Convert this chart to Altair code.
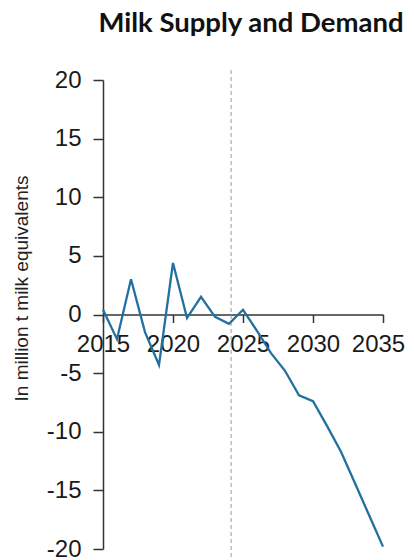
import altair as alt
import pandas as pd

years = list(range(2015, 2036))
values = [0.4, -2.1, 3.0, -1.5, -4.3, 4.4, -0.3, 1.5, -0.2, -0.8, 0.4,
          -1.4, -3.3, -4.8, -6.9, -7.4, -9.5, -11.7, -14.4, -17.1, -19.8]
divider_year = [2024.15]
x_ticks = [2015, 2020, 2025, 2030, 2035]
y_ticks = [-20, -15, -10, -5, 0, 5, 10, 15, 20]

df = pd.DataFrame({"year": years, "value": values})
rule_df = pd.DataFrame({"year": divider_year})

W, H = 280, 469
LABEL_FONT = "Liberation Sans"

x_scale = alt.Scale(domain=[2015, 2035], nice=False, zero=False)
y_scale = alt.Scale(domain=[-20, 20], nice=False)

line = alt.Chart(df).mark_line(color="#22709f", strokeWidth=2.3).encode(
    x=alt.X("year:Q", scale=x_scale,
            axis=alt.Axis(values=x_ticks, format="d", title=None, grid=False,
                          offset=-H / 2, tickSize=8, labelPadding=10,
                          labelOffset={"condition": {"test": "datum.value == 2035", "value": -5},
                                       "value": 0},
                          labelFont=LABEL_FONT, labelFontSize=24, labelColor="#1a1a1a",
                          domainColor="#333333", tickColor="#333333",
                          domainWidth=1.5, tickWidth=1.5, labelOverlap=False,
                          labelFlush=False)),
    y=alt.Y("value:Q", scale=y_scale,
            axis=alt.Axis(values=y_ticks, title="In million t milk equivalents",
                          grid=False, tickSize=10, labelPadding=12,
                          labelExpr="'' + datum.value",
                          labelFont=LABEL_FONT, labelFontSize=24, labelColor="#1a1a1a",
                          domainColor="#333333", tickColor="#333333",
                          domainWidth=1.5, tickWidth=1.5,
                          titleFont=LABEL_FONT, titleFontSize=19, titleFontWeight="normal",
                          titleColor="#222222", titleX=-82, titleY=208,
                          titleAngle=270, titleBaseline="middle", titleAlign="center")),
)

rule = alt.Chart(rule_df).mark_rule(color="#999999", strokeWidth=1, strokeDash=[4, 3]).encode(
    x=alt.X("year:Q", scale=x_scale),
    y=alt.value(-10),
    y2=alt.value(H + 10),
)

chart = alt.layer(rule, line).properties(
    width=W, height=H,
    title=alt.TitleParams("Milk Supply and Demand", font="Lato", fontSize=27.5,
                          fontWeight="bold", color="#111111", anchor="middle",
                          dx=8, offset=31),
    autosize=alt.AutoSizeParams(type="none"),
    padding={"left": 95, "top": 72, "right": 22, "bottom": 10},
).configure_view(stroke=None)

chart.save("out.html", embed_options={"renderer": "svg", "actions": False})
